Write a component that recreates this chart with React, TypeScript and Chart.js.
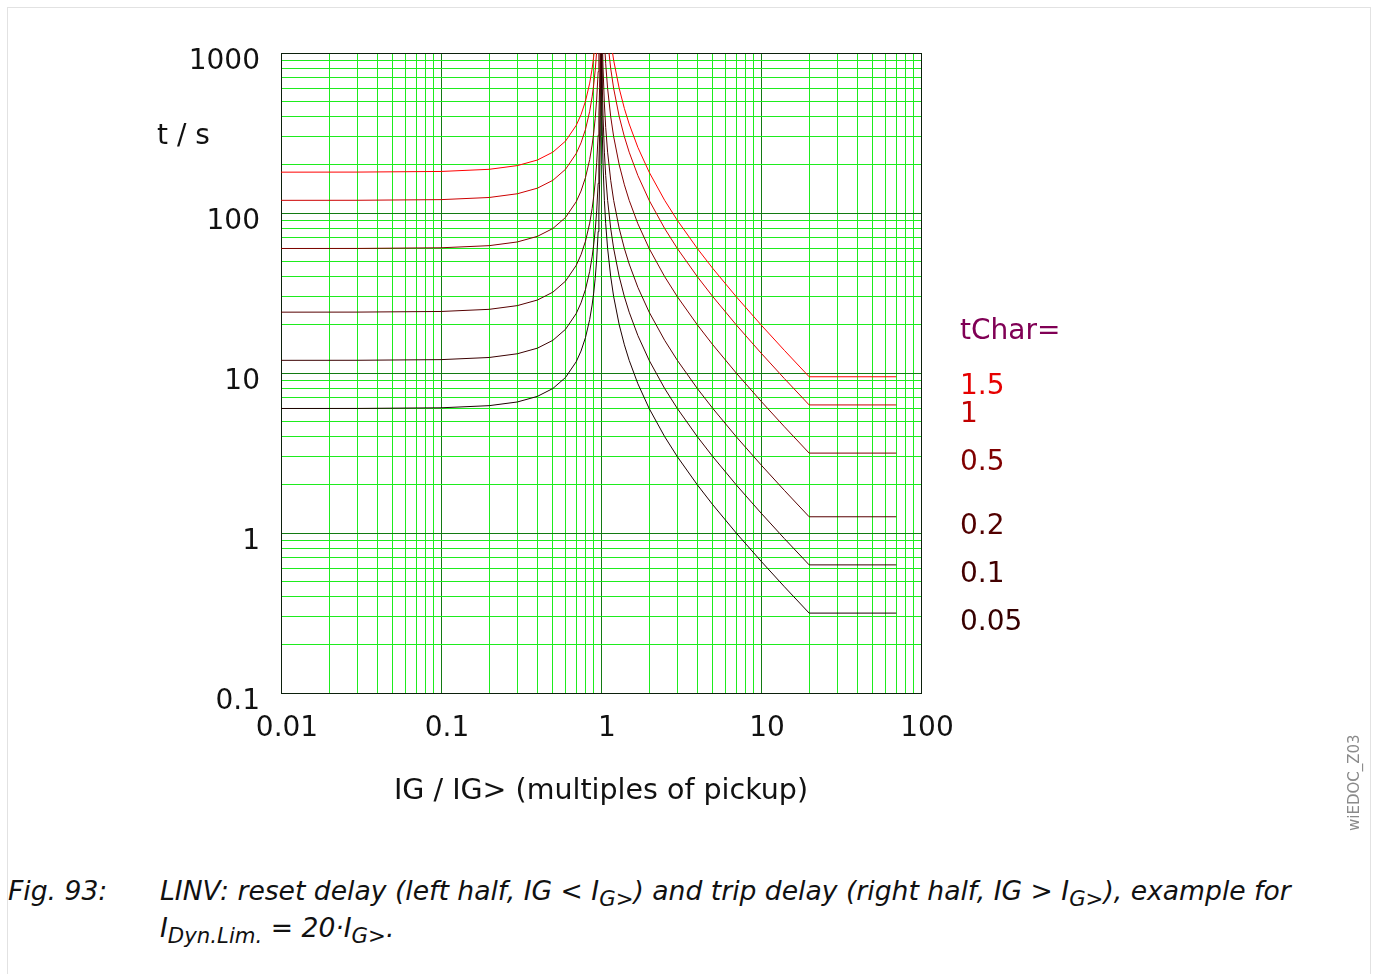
import React, { useEffect, useRef } from "react";
import { Chart, registerables } from "chart.js";
Chart.register(...registerables);

// ---- data ----
const tChars = ["1.5", "1", "0.5", "0.2", "0.1", "0.05"];
const lineColors = ["#ff0000", "#cc0000", "#800000", "#560000", "#3a0000", "#1e0000"];
const labelColors = ["#e60000", "#c00000", "#800000", "#520000", "#420000", "#360000"];

// reset delay (left half, IG < IG>)
const resetX = [0.01, 0.03, 0.1, 0.2, 0.3, 0.4, 0.5, 0.6, 0.7, 0.75, 0.8, 0.85, 0.88, 0.9, 0.92, 0.94, 0.96, 0.97, 0.98, 0.99, 0.995, 0.998];
const reset15 = [180, 180.2, 181.8, 187.5, 197.8, 214.3, 240, 281.3, 352.9, 411.4, 500, 648.6, 797.9, 947.4, 1171.9, 1546, 2296, 3046, 4545, 9045, 18045, 45045];
const reset10 = [120, 120.1, 121.2, 125, 131.9, 142.9, 160, 187.5, 235.3, 274.3, 333.3, 432.4, 531.9, 631.6, 781.3, 1031, 1531, 2030, 3030, 6030, 12030, 30030];
const reset05 = [60, 60.05, 60.61, 62.5, 65.93, 71.43, 80, 93.75, 117.6, 137.1, 166.7, 216.2, 266, 315.8, 390.6, 515.5, 765.3, 1015, 1515, 3015, 6015, 15015];
const reset02 = [24, 24.02, 24.24, 25, 26.37, 28.57, 32, 37.5, 47.06, 54.86, 66.67, 86.49, 106.4, 126.3, 156.3, 206.2, 306.1, 406.1, 606.1, 1206, 2406, 6006];
const reset01 = [12, 12.01, 12.12, 12.5, 13.19, 14.29, 16, 18.75, 23.53, 27.43, 33.33, 43.24, 53.19, 63.16, 78.13, 103.1, 153.1, 203, 303, 603, 1203, 3003];
const reset005 = [6, 6.005, 6.06, 6.25, 6.59, 7.14, 8, 9.375, 11.76, 13.71, 16.67, 21.62, 26.6, 31.58, 39.06, 51.55, 76.53, 101.5, 151.5, 301.5, 601.5, 1502];

// trip delay (right half, IG > IG>), limited at IDyn.Lim. = 20
const tripX = [1.005, 1.01, 1.02, 1.03, 1.05, 1.07, 1.1, 1.15, 1.2, 1.3, 1.4, 1.5, 1.7, 2, 2.5, 3, 4, 5, 7, 10, 14, 20, 70];
const trip15 = [36000, 18000, 9000, 6000, 3600, 2571, 1800, 1200, 900, 600, 450, 360, 257.1, 180, 120, 90, 60, 45, 30, 20, 13.85, 9.474, 9.474];
const trip10 = [24000, 12000, 6000, 4000, 2400, 1714, 1200, 800, 600, 400, 300, 240, 171.4, 120, 80, 60, 40, 30, 20, 13.33, 9.231, 6.316, 6.316];
const trip05 = [12000, 6000, 3000, 2000, 1200, 857.1, 600, 400, 300, 200, 150, 120, 85.71, 60, 40, 30, 20, 15, 10, 6.667, 4.615, 3.158, 3.158];
const trip02 = [4800, 2400, 1200, 800, 480, 342.9, 240, 160, 120, 80, 60, 48, 34.29, 24, 16, 12, 8, 6, 4, 2.667, 1.846, 1.263, 1.263];
const trip01 = [2400, 1200, 600, 400, 240, 171.4, 120, 80, 60, 40, 30, 24, 17.14, 12, 8, 6, 4, 3, 2, 1.333, 0.923, 0.632, 0.632];
const trip005 = [1200, 600, 300, 200, 120, 85.71, 60, 40, 30, 20, 15, 12, 8.571, 6, 4, 3, 2, 1.5, 1, 0.667, 0.4615, 0.3158, 0.3158];

const resetSeries = [reset15, reset10, reset05, reset02, reset01, reset005];
const tripSeries = [trip15, trip10, trip05, trip02, trip01, trip005];

// ticks
const xMajorTicks = [0.01, 0.1, 1, 10, 100];
const xTickLabels = ["0.01", "0.1", "1", "10", "100"];
const yMajorTicks = [0.1, 1, 10, 100, 1000];
const yTickLabels = ["0.1", "1", "10", "100", "1000"];
const minorSteps = [2, 3, 4, 5, 6, 7, 8, 9];

const FONT = '"DejaVu Sans", "Liberation Sans", sans-serif';
const MAJOR_GRID = "#137a13";
const MINOR_GRID = "rgb(30,236,30)";
const FS = 28;

function allTicks(majors: number[]) {
  const out: number[] = [];
  majors.forEach((d, i) => {
    out.push(d);
    if (i < majors.length - 1) minorSteps.forEach((s) => out.push(s * d));
  });
  return out;
}

const textPlugin = {
  id: "textPlugin",
  beforeDatasetsDraw(chart: any) {
    const { ctx, chartArea } = chart;
    ctx.save();
    ctx.strokeStyle = "#0c200c";
    ctx.lineWidth = 1;
    ctx.strokeRect(Math.round(chartArea.left) + 0.5, Math.round(chartArea.top) + 0.5, Math.round(chartArea.right - chartArea.left), Math.round(chartArea.bottom - chartArea.top));
    ctx.restore();
  },
  afterDraw(chart: any) {
    const { ctx, chartArea, scales } = chart;
    ctx.save();
    ctx.font = `${FS}px ${FONT}`;
    ctx.textBaseline = "alphabetic";
    ctx.textAlign = "left";
    ctx.fillStyle = "#111";
    ctx.fillText("t / s", chartArea.left - 124, chartArea.top + 91);
    ctx.fillStyle = "#800055";
    ctx.fillText("tChar=", chartArea.right + 39, scales.y.getPixelForValue(trip15[trip15.length - 1]) - 38);
    tChars.forEach((t, i) => {
      const series = tripSeries[i];
      const yv = series[series.length - 1];
      ctx.fillStyle = labelColors[i];
      ctx.fillText(t, chartArea.right + 39, scales.y.getPixelForValue(yv) + 17);
    });
    ctx.restore();
  },
};

function ChartView() {
  const ref = useRef<HTMLCanvasElement | null>(null);
  useEffect(() => {
    if (!ref.current) return;
    const xTicks = allTicks(xMajorTicks);
    const yTicks = allTicks(yMajorTicks);
    const datasets = tChars.map((t, i) => ({
      label: "tChar=" + t,
      data: [
        ...resetX.map((x, j) => ({ x, y: resetSeries[i][j] })),
        { x: 1, y: null },
        ...tripX.map((x, j) => ({ x, y: tripSeries[i][j] })),
      ],
      borderColor: lineColors[i],
      backgroundColor: lineColors[i],
      borderWidth: 1,
      pointRadius: 0,
      tension: 0,
      spanGaps: false,
      fill: false,
    }));
    const chart = new Chart(ref.current, {
      type: "line",
      data: { datasets: datasets as any },
      plugins: [textPlugin],
      options: {
        animation: false,
        responsive: false,
        maintainAspectRatio: false,
        devicePixelRatio: 1,
        layout: { padding: { top: 53, right: 457, left: 0, bottom: 0 } },
        plugins: { legend: { display: false }, tooltip: { enabled: false } },
        scales: {
          x: {
            type: "logarithmic",
            min: 0.01,
            max: 100,
            afterBuildTicks: (s: any) => {
              s.ticks = xTicks.map((v) => ({ value: v }));
            },
            afterFit: (s: any) => {
              s.height = 157;
            },
            ticks: {
              autoSkip: false,
              maxRotation: 0,
              minRotation: 0,
              padding: 19,
              labelOffset: 6,
              color: "#111",
              font: { family: FONT, size: FS },
              callback: (v: any) => {
                const i = xMajorTicks.indexOf(Number(v));
                return i >= 0 ? xTickLabels[i] : "";
              },
            },
            grid: {
              drawTicks: false,
              lineWidth: 1,
              color: (c: any) => (c.tick && xMajorTicks.indexOf(c.tick.value) >= 0 ? MAJOR_GRID : MINOR_GRID),
            },
            border: { color: "#0c200c", width: 1 },
            title: {
              display: true,
              text: "IG / IG> (multiples of pickup)",
              color: "#111",
              font: { family: FONT, size: 28.5 },
              padding: { top: 0, bottom: 41 },
            },
          },
          y: {
            type: "logarithmic",
            min: 0.1,
            max: 1000,
            afterBuildTicks: (s: any) => {
              s.ticks = yTicks.map((v) => ({ value: v }));
            },
            afterFit: (s: any) => {
              s.width = 281;
            },
            ticks: {
              autoSkip: false,
              padding: 21,
              labelOffset: 9,
              color: "#111",
              font: { family: FONT, size: FS },
              callback: (v: any) => {
                const i = yMajorTicks.indexOf(Number(v));
                return i >= 0 ? yTickLabels[i] : "";
              },
            },
            grid: {
              drawTicks: false,
              lineWidth: 1,
              color: (c: any) => (c.tick && yMajorTicks.indexOf(c.tick.value) >= 0 ? MAJOR_GRID : MINOR_GRID),
            },
            border: { color: "#0c200c", width: 1 },
          },
        },
      },
    });
    return () => chart.destroy();
  }, []);
  return <canvas ref={ref} width={1378} height={850} style={{ position: "absolute", left: 0, top: 0, width: 1378, height: 850 }} />;
}

const subStyle: React.CSSProperties = { fontSize: "0.8em", verticalAlign: "-0.28em", lineHeight: 0 };
const CAP_FONT = `italic 26.6px ${FONT}`;

export default function App() {
  return (
    <div style={{ position: "absolute", left: 0, top: 0, width: 1378, height: 974, overflow: "hidden", background: "#fff" }}>
      <div style={{ position: "absolute", left: 7, top: 7, width: 1364, height: 1000, boxSizing: "border-box", border: "1px solid #e2e2e2" }} />
      <ChartView />
      <div style={{ position: "absolute", left: 8, top: 872, font: CAP_FONT, lineHeight: "37px", color: "#111", whiteSpace: "nowrap" }}>Fig. 93:</div>
      <div style={{ position: "absolute", left: 160, top: 872, font: CAP_FONT, lineHeight: "37px", color: "#111", whiteSpace: "nowrap" }}>
        LINV: reset delay (left half, IG &lt; I<sub style={subStyle}>G&gt;</sub>) and trip delay (right half, IG &gt; I<sub style={subStyle}>G&gt;</sub>), example for
        <br />
        I<sub style={subStyle}>Dyn.Lim.</sub> = 20·I<sub style={subStyle}>G&gt;</sub>.
      </div>
      <div style={{ position: "absolute", left: 1345, top: 733, height: 100, width: 18, writingMode: "vertical-rl", transform: "rotate(180deg)", font: `15px ${FONT}`, color: "#8a8a8a", textAlign: "center", lineHeight: "18px" }}>wiEDOC_Z03</div>
    </div>
  );
}
